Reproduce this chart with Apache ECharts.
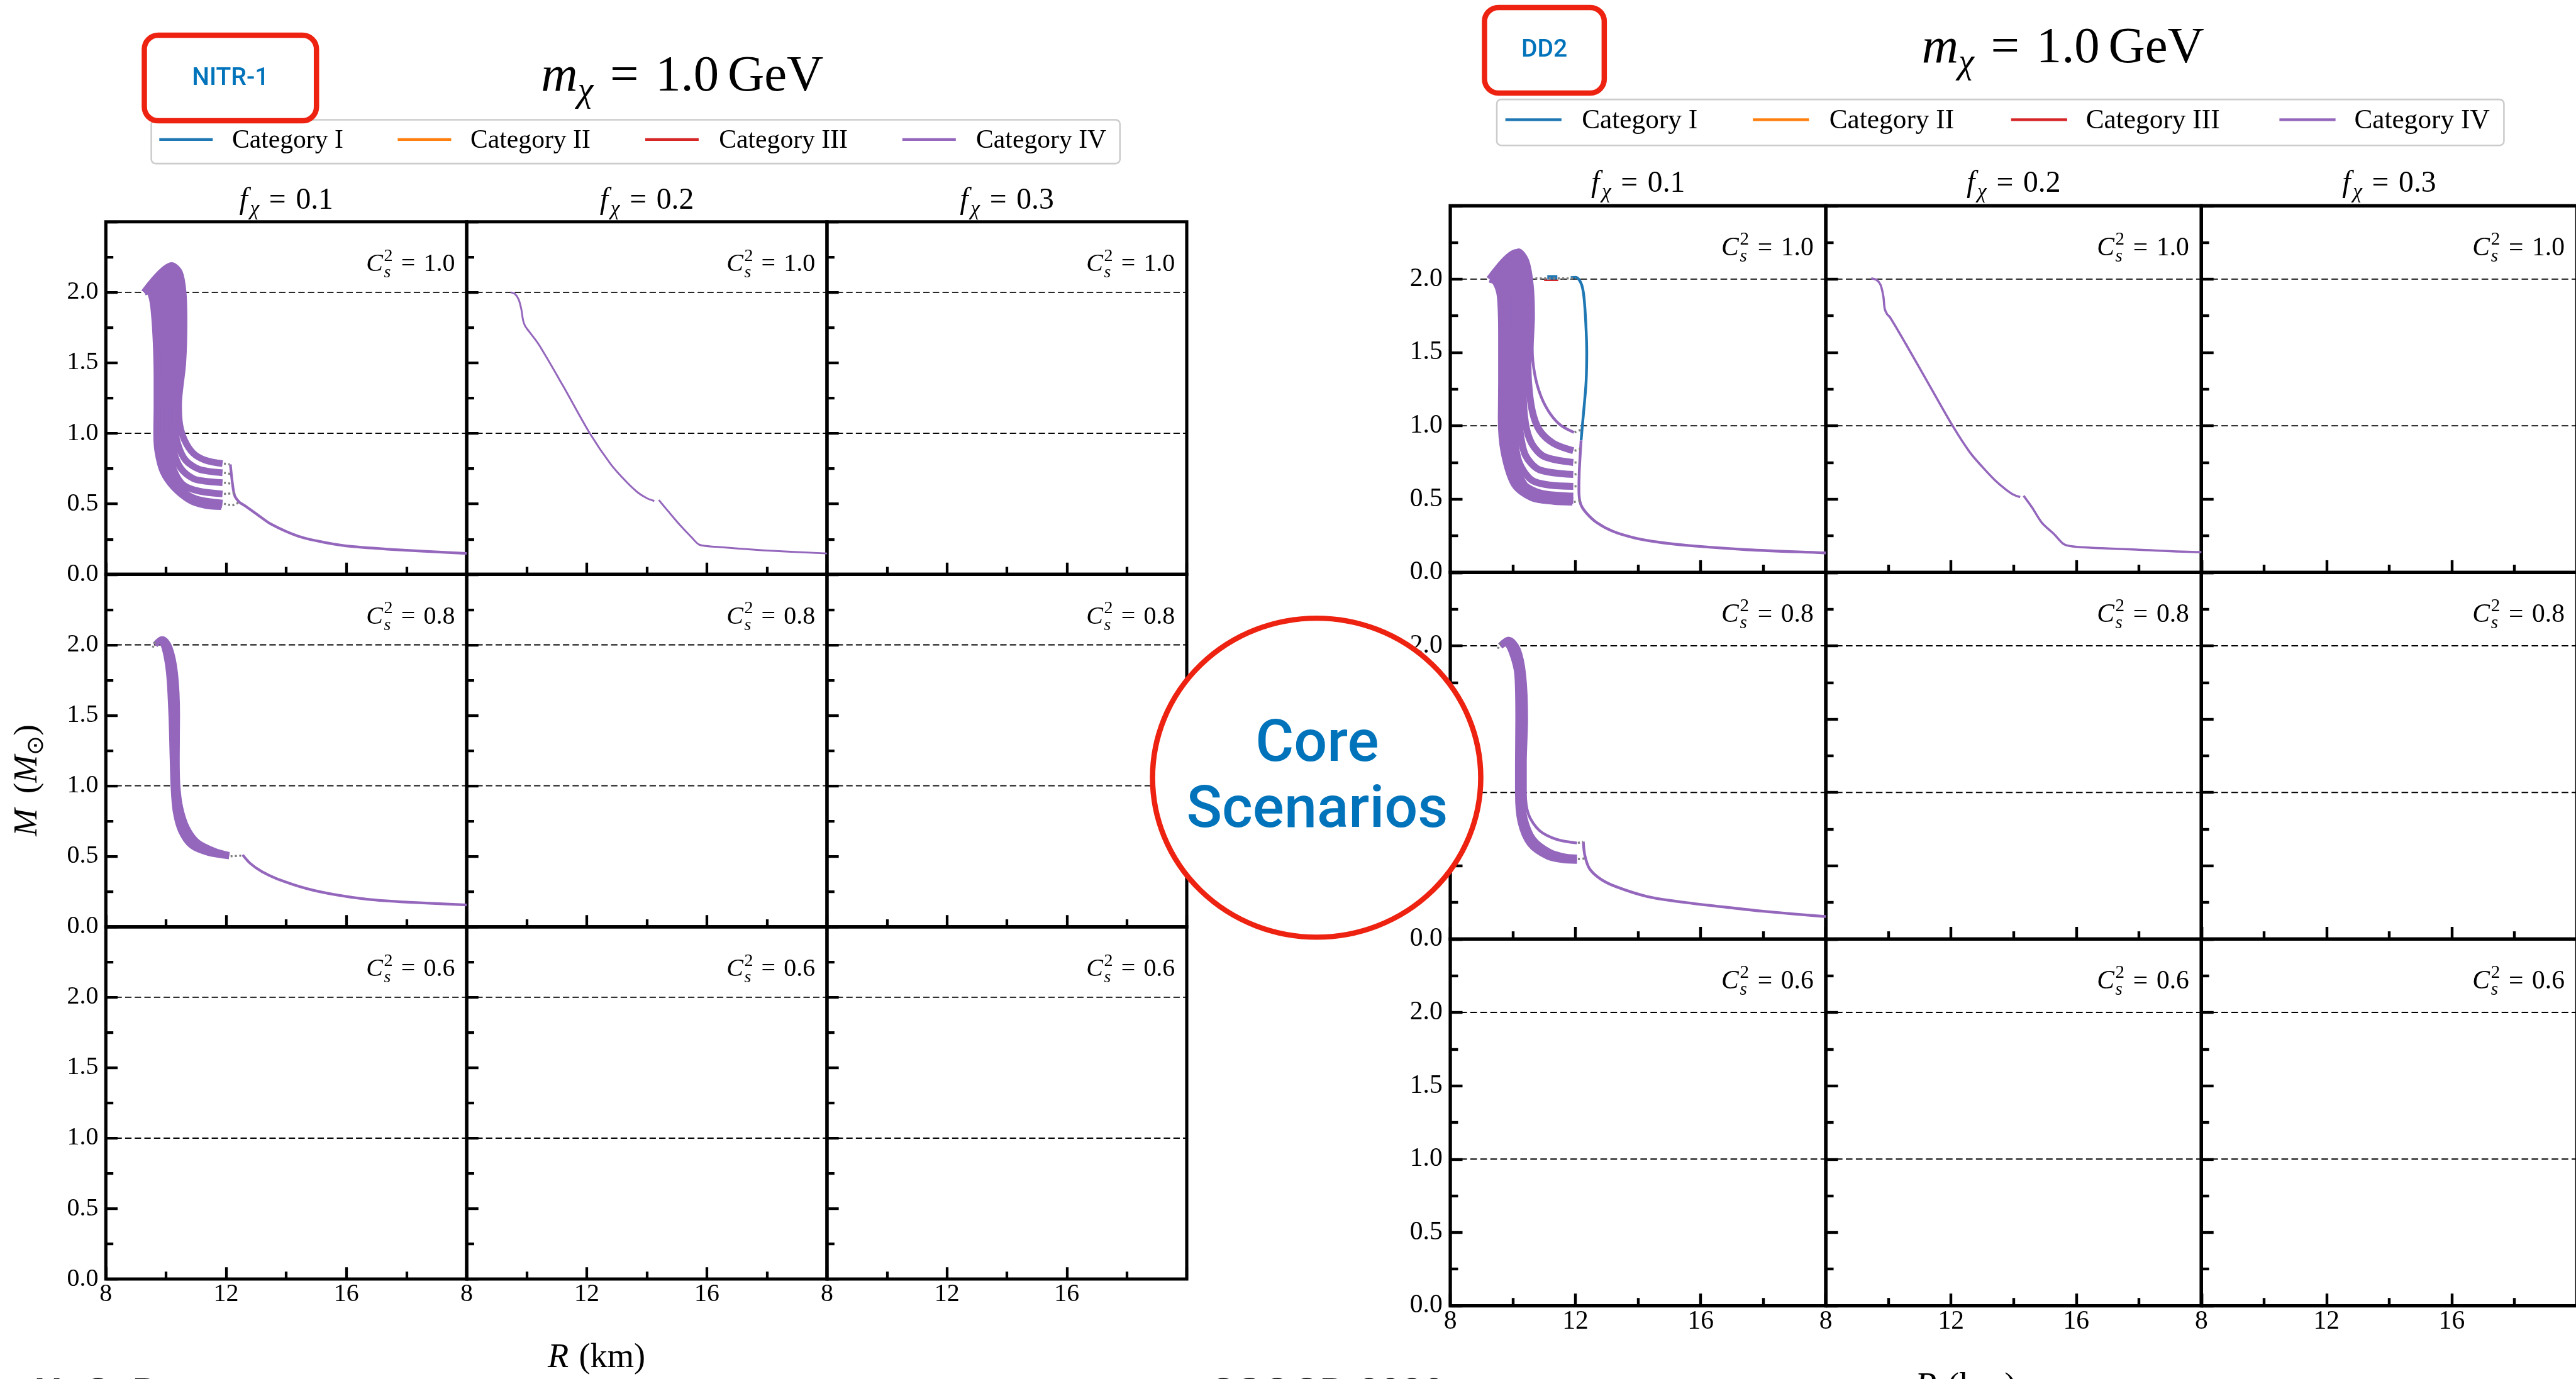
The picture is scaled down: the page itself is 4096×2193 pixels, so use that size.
<!DOCTYPE html>
<html>
<head>
<meta charset="utf-8">
<title>Core scenarios: mass-radius curves, NITR-1 and DD2</title>
<script src="https://cdn.jsdelivr.net/npm/echarts/dist/echarts.min.js"></script>
<style>
  html, body { margin: 0; padding: 0; background: #ffffff; overflow: hidden; }
  #chart { width: 4096px; height: 2193px; }
</style>
</head>
<body>
<div id="chart"></div>
<script>
// ---------------------------------------------------------------------------
// Values
// ---------------------------------------------------------------------------
const eosNames = ['NITR-1', 'DD2'];
const categories = ['Category I', 'Category II', 'Category III', 'Category IV'];
const fChiValues = ['0.1', '0.2', '0.3'];          // columns
const cs2Values = ['1.0', '0.8', '0.6'];          // rows
const darkMatterMass = '1.0';                     // m_chi in GeV
const radiusRange = [8, 20];                      // R (km)
const massRange = [0, 2.5];                       // M (M_sun)
const xTickValues = [8, 12, 16];
const xTickLabels = ['8', '12', '16'];
const yTickValues = [0, 0.5, 1, 1.5, 2];
const yTickLabels = ['0.0', '0.5', '1.0', '1.5', '2.0'];
const guideMasses = [1.0, 2.0];

// NITR-1, f_chi = 0.1, C_s^2 = 1.0 : family of Category IV sequences
const nitr_f1_c10_0 = [[9.28,2.0],[9.42,2.01],[9.55,1.95],[9.63,1.8],[9.68,1.6],[9.7,1.4],[9.7,1.2],[9.69,1.0],[9.73,0.87],[9.9,0.73],[10.25,0.62],[10.8,0.525],[11.3,0.49],[11.84,0.48]];
const nitr_f1_c10_1 = [[9.28,2.0],[9.5,2.03],[9.66,1.97],[9.76,1.82],[9.81,1.6],[9.82,1.4],[9.82,1.2],[9.81,1.0],[9.86,0.86],[10.05,0.72],[10.4,0.61],[10.9,0.54],[11.4,0.5],[11.86,0.492]];
const nitr_f1_c10_2 = [[9.28,2.0],[9.6,2.05],[9.78,1.99],[9.9,1.84],[9.95,1.6],[9.95,1.4],[9.93,1.2],[9.93,1.0],[9.98,0.84],[10.15,0.71],[10.5,0.6],[11.0,0.535],[11.88,0.505]];
const nitr_f1_c10_3 = [[9.28,2.0],[9.72,2.08],[9.92,2.02],[10.05,1.86],[10.1,1.6],[10.1,1.4],[10.06,1.2],[10.06,1.0],[10.12,0.85],[10.3,0.72],[10.6,0.63],[11.1,0.59],[11.88,0.57]];
const nitr_f1_c10_4 = [[9.28,2.0],[9.85,2.11],[10.08,2.05],[10.22,1.9],[10.27,1.65],[10.26,1.4],[10.18,1.2],[10.18,1.02],[10.26,0.87],[10.5,0.75],[10.9,0.68],[11.3,0.66],[11.88,0.65]];
const nitr_f1_c10_5 = [[9.28,2.0],[10.0,2.15],[10.25,2.09],[10.4,1.94],[10.44,1.7],[10.42,1.45],[10.3,1.2],[10.3,1.05],[10.4,0.92],[10.65,0.81],[11.1,0.745],[11.88,0.72]];
const nitr_f1_c10_6 = [[9.28,2.0],[10.19,2.19],[10.45,2.14],[10.57,2.0],[10.6,1.8],[10.56,1.5],[10.42,1.2],[10.46,1.06],[10.62,0.95],[10.9,0.86],[11.3,0.81],[11.88,0.785]];
const nitr_f1_c10_band = [nitr_f1_c10_0, nitr_f1_c10_1, nitr_f1_c10_2, nitr_f1_c10_3, nitr_f1_c10_4, nitr_f1_c10_5, nitr_f1_c10_6];
// region where the sequences of this family overlap
const nitr_f1_c10_core = [[9.3,2.0],[9.5,1.97],[9.6,1.85],[9.64,1.6],[9.65,1.3],[9.64,1.0],[9.68,0.86],[9.85,0.72],[10.2,0.6],[10.6,0.53],[10.95,0.5],[10.95,0.54],[10.6,0.6],[10.4,0.68],[10.28,0.78],[10.24,0.92],[10.3,1.05],[10.45,1.2],[10.58,1.5],[10.62,1.8],[10.56,2.03],[10.42,2.15],[10.19,2.18],[9.7,2.08]];
const nitr_f1_c10_tail = [[12.14,0.78],[12.19,0.68],[12.24,0.6],[12.3,0.55],[12.45,0.51],[12.6,0.49],[13.0,0.43],[13.5,0.355],[14.4,0.27],[15.3,0.225],[16.2,0.197],[18.0,0.17],[20.0,0.148]];
const nitr_f1_c10_links = [
  [[11.93,0.785],[12.12,0.78]],
  [[11.93,0.72],[12.18,0.71]],
  [[11.93,0.65],[12.22,0.64]],
  [[11.93,0.57],[12.27,0.575]],
  [[11.93,0.5],[12.2,0.49],[12.42,0.51]]
];

// NITR-1, f_chi = 0.1, C_s^2 = 0.8
const nitr_f1_c08_0 = [[9.64,2.0],[9.8,2.03],[9.95,1.98],[10.1,1.8],[10.18,1.5],[10.22,1.2],[10.25,1.0],[10.32,0.82],[10.5,0.68],[10.85,0.575],[11.4,0.525],[12.1,0.5]];
const nitr_f1_c08_1 = [[9.64,2.0],[9.85,2.04],[10.03,1.99],[10.2,1.8],[10.27,1.5],[10.3,1.2],[10.32,1.0],[10.4,0.83],[10.6,0.69],[10.95,0.585],[11.5,0.53],[12.1,0.505]];
const nitr_f1_c08_2 = [[9.64,2.0],[9.89,2.04],[10.12,1.98],[10.3,1.8],[10.37,1.5],[10.36,1.2],[10.38,1.0],[10.48,0.84],[10.7,0.7],[11.05,0.6],[11.6,0.54],[12.1,0.51]];
const nitr_f1_c08_band = [nitr_f1_c08_0, nitr_f1_c08_1, nitr_f1_c08_2];
const nitr_f1_c08_tail = [[12.55,0.51],[12.8,0.45],[13.2,0.39],[13.7,0.34],[14.7,0.27],[15.7,0.225],[16.7,0.195],[18.0,0.175],[20.0,0.155]];
const nitr_f1_c08_links = [
  [[12.15,0.5],[12.52,0.505]],
  [[9.56,1.98],[9.66,2.03]]
];

// NITR-1, f_chi = 0.2, C_s^2 = 1.0
const nitr_f2_c10_a = [[9.46,2.0],[9.6,1.99],[9.73,1.95],[9.82,1.88],[9.88,1.8],[9.95,1.76],[10.05,1.73],[10.4,1.63],[11.2,1.34],[12.1,1.0],[12.8,0.78],[13.3,0.66],[13.7,0.58],[14.0,0.54],[14.25,0.52]];
const nitr_f2_c10_b = [[14.4,0.527],[14.7,0.45],[15.1,0.35],[15.5,0.26],[15.75,0.21],[16.3,0.195],[17.9,0.17],[20.0,0.148]];

// DD2, f_chi = 0.1, C_s^2 = 1.0
const dd2_f1_c10_0 = [[9.26,2.0],[9.45,1.98],[9.6,1.88],[9.64,1.6],[9.64,1.3],[9.63,1.05],[9.72,0.82],[10.05,0.6],[10.6,0.51],[11.3,0.485],[11.9,0.48]];
const dd2_f1_c10_1 = [[9.26,2.0],[9.48,2.04],[9.7,1.96],[9.78,1.8],[9.78,1.5],[9.75,1.2],[9.74,0.95],[9.85,0.74],[10.2,0.58],[10.8,0.51],[11.93,0.49]];
const dd2_f1_c10_2 = [[9.26,2.0],[9.6,2.07],[9.82,2.0],[9.92,1.85],[9.93,1.7],[9.92,1.5],[9.88,1.2],[9.88,0.95],[10.0,0.74],[10.35,0.6],[10.9,0.54],[11.93,0.52]];
const dd2_f1_c10_3 = [[9.26,2.0],[9.73,2.09],[9.95,2.02],[10.07,1.88],[10.07,1.7],[10.06,1.5],[10.03,1.2],[10.05,0.95],[10.2,0.75],[10.6,0.63],[11.2,0.595],[11.93,0.587]];
const dd2_f1_c10_4 = [[9.26,2.0],[9.85,2.12],[10.1,2.05],[10.22,1.9],[10.22,1.7],[10.2,1.5],[10.18,1.2],[10.22,0.98],[10.4,0.8],[10.85,0.7],[11.93,0.668]];
const dd2_f1_c10_5 = [[9.26,2.0],[9.98,2.15],[10.25,2.08],[10.38,1.92],[10.38,1.7],[10.34,1.5],[10.33,1.25],[10.4,1.02],[10.6,0.88],[11.0,0.79],[11.93,0.75]];
const dd2_f1_c10_6 = [[9.26,2.0],[10.1,2.18],[10.38,2.12],[10.52,1.98],[10.53,1.75],[10.48,1.5],[10.5,1.3],[10.62,1.1],[10.85,0.97],[11.3,0.88],[11.93,0.83]];
const dd2_f1_c10_band = [dd2_f1_c10_0, dd2_f1_c10_1, dd2_f1_c10_2, dd2_f1_c10_3, dd2_f1_c10_4, dd2_f1_c10_5, dd2_f1_c10_6];
const dd2_f1_c10_core = [[9.3,2.0],[9.5,1.96],[9.57,1.85],[9.57,1.5],[9.57,1.1],[9.63,0.88],[9.78,0.7],[10.0,0.6],[10.35,0.53],[10.7,0.5],[10.9,0.49],[10.9,0.53],[10.55,0.58],[10.35,0.65],[10.22,0.75],[10.17,0.9],[10.2,1.05],[10.35,1.2],[10.45,1.4],[10.55,1.7],[10.52,1.98],[10.38,2.12],[10.1,2.17],[9.7,2.08]];
const dd2_f1_c10_outer = [[9.26,2.0],[10.19,2.2],[10.47,2.13],[10.62,1.96],[10.66,1.75],[10.62,1.52],[10.7,1.35],[10.9,1.2],[11.2,1.08],[11.55,1.0],[11.95,0.955]];
const dd2_f1_c10_catI = [[11.85,2.01],[12.0,2.012],[12.1,2.0],[12.2,1.96],[12.27,1.88],[12.33,1.7],[12.36,1.5],[12.34,1.3],[12.28,1.14],[12.22,1.0],[12.18,0.9]];
const dd2_f1_c10_catI_top = [[11.1,2.012],[11.42,2.012]];
const dd2_f1_c10_catIII = [[11.0,1.992],[11.45,1.992]];
const dd2_f1_c10_tail = [[12.18,0.9],[12.15,0.8],[12.12,0.68],[12.11,0.56],[12.16,0.47],[12.33,0.41],[12.68,0.34],[13.2,0.28],[13.9,0.235],[14.7,0.205],[15.64,0.183],[17.5,0.155],[19.9,0.134],[20.0,0.133]];
const dd2_f1_c10_links = [
  [[10.72,2.005],[12.02,2.005]],
  [[11.97,0.955],[12.2,0.975]],
  [[11.97,0.83],[12.15,0.84]],
  [[11.97,0.75],[12.13,0.75]],
  [[11.97,0.668],[12.12,0.675]],
  [[11.97,0.587],[12.11,0.59]],
  [[11.95,0.48],[12.15,0.49]]
];

// DD2, f_chi = 0.1, C_s^2 = 0.8
const dd2_f1_c08_0 = [[9.6,2.0],[9.78,2.02],[9.98,1.95],[10.15,1.8],[10.18,1.5],[10.17,1.2],[10.17,1.0],[10.25,0.8],[10.55,0.65],[11.1,0.565],[11.6,0.54],[12.05,0.535]];
const dd2_f1_c08_1 = [[9.6,2.0],[9.85,2.04],[10.1,1.97],[10.28,1.8],[10.33,1.5],[10.3,1.2],[10.29,1.0],[10.36,0.83],[10.65,0.68],[11.2,0.59],[11.7,0.56],[12.05,0.555]];
const dd2_f1_c08_band = [dd2_f1_c08_0, dd2_f1_c08_1];
const dd2_f1_c08_outer = [[9.6,2.0],[9.9,2.05],[10.2,1.98],[10.38,1.8],[10.44,1.5],[10.4,1.2],[10.4,1.0],[10.5,0.85],[10.85,0.74],[11.4,0.68],[12.05,0.655]];
const dd2_f1_c08_tail = [[12.25,0.665],[12.3,0.57],[12.45,0.48],[12.8,0.41],[13.3,0.357],[14.3,0.29],[15.5,0.25],[16.7,0.22],[18.0,0.19],[19.9,0.155],[20.0,0.154]];
const dd2_f1_c08_links = [
  [[12.08,0.545],[12.3,0.55]],
  [[12.08,0.655],[12.24,0.665]],
  [[9.52,1.98],[9.62,2.03]]
];

// DD2, f_chi = 0.2, C_s^2 = 1.0
const dd2_f2_c10_a = [[9.45,2.005],[9.62,1.995],[9.75,1.96],[9.84,1.88],[9.88,1.8],[9.96,1.76],[10.05,1.74],[10.55,1.56],[11.3,1.28],[12.08,0.99],[12.6,0.82],[13.0,0.72],[13.4,0.63],[13.75,0.566],[14.0,0.53],[14.21,0.514]];
const dd2_f2_c10_b = [[14.32,0.523],[14.6,0.44],[14.9,0.34],[15.3,0.26],[15.62,0.191],[16.04,0.174],[18.0,0.155],[19.96,0.139],[20.0,0.139]];

// ---------------------------------------------------------------------------
// Styles and layout (slide units, 4814 x 2578; drawn at S)
// ---------------------------------------------------------------------------
const S = 0.85;
const SERIF = '"Liberation Serif", "Times New Roman", serif';
const SANS = 'Roboto, "Liberation Sans", Arial, sans-serif';
const BOLD_SANS = '"Liberation Sans", Arial, sans-serif';
const categoryColors = ['#1f77b4', '#ff7f0e', '#d62728', '#9467bd'];
const LINK_GRAY = '#808080';
const RED = '#ee2211';
const BLUE = '#0173bb';
const BASE_MID = 0.3;

const figures = [
  { k: 1.0, cols: [198, 873, 1547, 2220], rows: [415, 1074.5, 1734, 2393],
    box: [270, 66, 322, 160], boxText: [431, 147], title: [1012, 173],
    legendBox: [283, 224, 1812, 82], legendY: 261, legendLineLen: 100,
    legendLineX: [298, 744, 1207, 1688], legendTextX: [434, 880, 1345, 1826],
    colTitleY: 393, xTitle: [1116, 2560], yTitle: [70, 1460] },
  { k: 1.04, cols: [2713, 3415.5, 4118, 4820.5], rows: [385, 1071, 1757, 2443],
    box: [2777, 14, 224, 160], boxText: [2889, 94], title: [3595, 120],
    legendBox: [2800, 186, 1884, 86], legendY: 224, legendLineLen: 105,
    legendLineX: [2816, 3279, 3762, 4264], legendTextX: [2959, 3422, 3902, 4404],
    colTitleY: 361, xTitle: [3677, 2617], yTitle: [2568, 1472] }
];

// curves per panel: key = figure-row-col
const band = (list, w) => list.map(d => ({ d, cat: 3, w }));
const dotted = list => list.map(d => ({ d, dot: true, w: 4 }));
const panelCurves = {
  '0-0-0': [...band(nitr_f1_c10_band, 12.5), ...dotted(nitr_f1_c10_links), { d: nitr_f1_c10_tail, cat: 3, w: 5 }],
  '0-1-0': [...band(nitr_f1_c08_band, 11), ...dotted(nitr_f1_c08_links), { d: nitr_f1_c08_tail, cat: 3, w: 5 }],
  '0-0-1': [{ d: nitr_f2_c10_a, cat: 3, w: 3.5 }, { d: nitr_f2_c10_b, cat: 3, w: 3.5 }],
  '1-0-0': [...band(dd2_f1_c10_band, 12.5), { d: dd2_f1_c10_outer, cat: 3, w: 5 }, ...dotted(dd2_f1_c10_links),
            { d: dd2_f1_c10_catIII, cat: 2, w: 3 }, { d: dd2_f1_c10_catI_top, cat: 0, w: 8, smooth: 0 },
            { d: dd2_f1_c10_catI, cat: 0, w: 5 }, { d: dd2_f1_c10_tail, cat: 3, w: 5 }],
  '1-1-0': [...band(dd2_f1_c08_band, 11.5), { d: dd2_f1_c08_outer, cat: 3, w: 5 }, ...dotted(dd2_f1_c08_links),
            { d: dd2_f1_c08_tail, cat: 3, w: 5 }],
  '1-0-1': [{ d: dd2_f2_c10_a, cat: 3, w: 4 }, { d: dd2_f2_c10_b, cat: 3, w: 4 }]
};
const panelCores = { '0-0-0': nitr_f1_c10_core, '1-0-0': dd2_f1_c10_core };

// ---------------------------------------------------------------------------
// Text helpers (math-style labels built from positioned runs)
// ---------------------------------------------------------------------------
const mctx = document.createElement('canvas').getContext('2d');
function fontStr(size, italic, family, weight) {
  return (italic ? 'italic ' : '') + (weight ? weight + ' ' : '') + size.toFixed(2) + 'px ' + family;
}
function measure(t, font) { mctx.font = font; return mctx.measureText(t).width; }

function mathGroup(parts, F, x, y, align, rotation, z, family, weight) {
  const fam = family || SERIF;
  const kids = [];
  let cx = 0;
  for (const p of parts) {
    cx += (p.pre || 0) * F;
    const items = p.stack || [p];
    let adv = 0;
    for (const q of items) {
      const f = F * (q.sc || 1);
      const font = fontStr(f, q.it, fam, weight);
      kids.push({ type: 'text', x: cx, y: (q.dy || 0) * F - BASE_MID * f, z: z || 10, silent: true,
        style: { text: q.t, font, fill: '#000', align: 'left', verticalAlign: 'middle' } });
      adv = Math.max(adv, measure(q.t, font));
    }
    cx += adv + (p.post || 0) * F;
  }
  const shift = align === 'center' ? -cx / 2 : (align === 'right' ? -cx : 0);
  kids.forEach(kd => { kd.x += shift; });
  return { type: 'group', x, y, rotation: rotation || 0, z: z || 10, silent: true, children: kids };
}
const EQ = { t: '=', pre: 0.33, post: 0.33 };
const fChiParts = v => [{ t: 'f', it: true, post: 0.08 }, { t: 'χ', it: true, sc: 0.7, dy: 0.2 }, EQ, { t: v }];
const cs2Parts = v => [{ t: 'C', it: true, post: 0.04 },
  { stack: [{ t: '2', sc: 0.7, dy: -0.42 }, { t: 's', it: true, sc: 0.7, dy: 0.24 }] }, EQ, { t: v }];
const titleParts = [{ t: 'm', it: true }, { t: 'χ', it: true, sc: 0.7, dy: 0.2 }, EQ, { t: darkMatterMass }, { t: 'GeV', pre: 0.17 }];
const yTitleParts = [{ t: 'M', it: true }, { t: '(', pre: 0.45 }, { t: 'M', it: true }, { t: '⊙', sc: 0.7, dy: 0.18 }, { t: ')' }];
const xTitleParts = [{ t: 'R', it: true }, { t: '(km)', pre: 0.3 }];

// ---------------------------------------------------------------------------
// Grids, axes and series
// ---------------------------------------------------------------------------
const grids = [], xAxes = [], yAxes = [], series = [];
figures.forEach((fg, fi) => {
  const k = fg.k;
  for (let r = 0; r < 3; r++) {
    for (let c = 0; c < 3; c++) {
      const gi = grids.length;
      const key = fi + '-' + r + '-' + c;
      grids.push({
        left: fg.cols[c] * S, top: fg.rows[r] * S,
        width: (fg.cols[c + 1] - fg.cols[c]) * S, height: (fg.rows[r + 1] - fg.rows[r]) * S,
        show: true, borderColor: '#000', borderWidth: 6 * S * k, backgroundColor: 'rgba(0,0,0,0)',
        containLabel: false, outerBoundsMode: 'none'
      });
      const tickStyle = { color: '#000', width: 5 * S * k };
      xAxes.push({
        type: 'value', gridIndex: gi, min: radiusRange[0], max: radiusRange[1], interval: 4,
        axisLine: { show: false }, splitLine: { show: false },
        axisTick: { show: true, inside: true, length: 22 * S * k, lineStyle: tickStyle },
        minorTick: { show: true, splitNumber: 2, length: 14 * S * k, lineStyle: tickStyle },
        axisLabel: {
          show: r === 2, margin: 5 * S * k, color: '#000', fontFamily: SERIF, fontSize: 47 * S * k,
          formatter: v => { const i = xTickValues.indexOf(v); return i >= 0 ? xTickLabels[i] : ''; }
        }
      });
      yAxes.push({
        type: 'value', gridIndex: gi, min: massRange[0], max: massRange[1], interval: 0.5,
        axisLine: { show: false }, splitLine: { show: false },
        axisTick: { show: true, inside: true, length: 22 * S * k, lineStyle: tickStyle },
        minorTick: { show: true, splitNumber: 2, length: 14 * S * k, lineStyle: tickStyle },
        axisLabel: {
          show: c === 0, margin: 14 * S * k, color: '#000', fontFamily: SERIF, fontSize: 47 * S * k,
          formatter: v => { const i = yTickValues.indexOf(v); return i >= 0 ? yTickLabels[i] : ''; }
        }
      });
      guideMasses.forEach(m => series.push({
        type: 'line', xAxisIndex: gi, yAxisIndex: gi, data: [[radiusRange[0], m], [radiusRange[1], m]],
        symbol: 'none', silent: true, animation: false, z: 1,
        lineStyle: { color: '#000', width: 2.2 * S * k, type: [12 * S * k, 6 * S * k] }
      }));
      const core = panelCores[key];
      if (core) {
        series.push({
          type: 'custom', name: categories[3], xAxisIndex: gi, yAxisIndex: gi, data: [core[0]],
          silent: true, animation: false, clip: true, z: 3,
          renderItem: (params, api) => ({
            type: 'polygon',
            shape: { points: core.map(p => api.coord(p)) },
            style: { fill: categoryColors[3], stroke: 'none' }
          })
        });
      }
      (panelCurves[key] || []).forEach(cv => {
        const w = cv.w * S * k;
        series.push({
          type: 'line', name: cv.cat != null ? categories[cv.cat] : 'link',
          xAxisIndex: gi, yAxisIndex: gi, data: cv.d,
          symbol: 'none', showSymbol: false, smooth: cv.smooth != null ? cv.smooth : 0.3,
          silent: true, animation: false, clip: true, z: cv.dot ? 4 : 3,
          lineStyle: {
            color: cv.dot ? LINK_GRAY : categoryColors[cv.cat], width: w, cap: 'butt', join: 'round',
            type: cv.dot ? [w * 0.9, w * 1.1] : 'solid'
          }
        });
      });
    }
  }
});

// ---------------------------------------------------------------------------
// Slide annotations: titles, legends, labels, boxes
// ---------------------------------------------------------------------------
const graphics = [];
figures.forEach((fg, fi) => {
  const k = fg.k;
  graphics.push({ type: 'rect', z: 5, silent: true,
    shape: { x: fg.legendBox[0] * S, y: fg.legendBox[1] * S, width: fg.legendBox[2] * S, height: fg.legendBox[3] * S, r: 8 * S },
    style: { fill: '#ffffff', stroke: '#cccccc', lineWidth: 3 * S } });
  categories.forEach((name, ci) => {
    graphics.push({ type: 'line', z: 6, silent: true,
      shape: { x1: fg.legendLineX[ci] * S, y1: fg.legendY * S, x2: (fg.legendLineX[ci] + fg.legendLineLen) * S, y2: fg.legendY * S },
      style: { stroke: categoryColors[ci], lineWidth: 5 * S * k } });
    graphics.push(mathGroup([{ t: name }], 49 * S * k, fg.legendTextX[ci] * S, (fg.legendY + 0.35 * 49 * k) * S, 'left', 0, 6));
  });
  graphics.push({ type: 'rect', z: 20, silent: true,
    shape: { x: fg.box[0] * S, y: fg.box[1] * S, width: fg.box[2] * S, height: fg.box[3] * S, r: 26 * S },
    style: { fill: 'none', stroke: RED, lineWidth: 10 * S } });
  graphics.push({ type: 'text', z: 21, silent: true, x: fg.boxText[0] * S, y: fg.boxText[1] * S,
    style: { text: eosNames[fi], font: fontStr(46 * S, false, SANS, 500), fill: BLUE, align: 'center', verticalAlign: 'middle' } });
  graphics.push(mathGroup(titleParts, 95 * S, fg.title[0] * S, fg.title[1] * S, 'left'));
  for (let c = 0; c < 3; c++) {
    const cxm = (fg.cols[c] + fg.cols[c + 1]) / 2;
    graphics.push(mathGroup(fChiParts(fChiValues[c]), 56 * S, cxm * S, fg.colTitleY * S, 'center'));
    for (let r = 0; r < 3; r++) {
      graphics.push(mathGroup(cs2Parts(cs2Values[r]), 47 * S * k, (fg.cols[c + 1] - 22 * k) * S, (fg.rows[r] + 94) * S, 'right'));
    }
  }
  graphics.push(mathGroup(xTitleParts, 64 * S * k, fg.xTitle[0] * S, fg.xTitle[1] * S, 'center'));
  graphics.push(mathGroup(yTitleParts, 62 * S * k, fg.yTitle[0] * S, fg.yTitle[1] * S, 'center', Math.PI / 2));
});

// footer line of the slide
graphics.push(mathGroup([{ t: 'H. C. Das' }], 72 * S, 64 * S, 2630 * S, 'left', 0, 10, BOLD_SANS, 'bold'));
graphics.push(mathGroup([{ t: 'CSQCD 2026' }], 72 * S, 2261 * S, 2630 * S, 'left', 0, 10, BOLD_SANS, 'bold'));

// central call-out
graphics.push({ type: 'circle', z: 100, silent: true, x: 2463 * S, y: 1455 * S, scaleY: 0.972,
  shape: { cx: 0, cy: 0, r: 307 * S }, style: { fill: '#ffffff', stroke: RED, lineWidth: 10 * S } });
graphics.push({ type: 'text', z: 101, silent: true, x: 2464 * S, y: (1429 - BASE_MID * 110) * S,
  style: { text: 'Core', font: fontStr(110 * S, false, SANS, 500), fill: BLUE, align: 'center', verticalAlign: 'middle' } });
graphics.push({ type: 'text', z: 101, silent: true, x: 2464 * S, y: (1553 - BASE_MID * 110) * S,
  style: { text: 'Scenarios', font: fontStr(110 * S, false, SANS, 500), fill: BLUE, align: 'center', verticalAlign: 'middle' } });

const chart = echarts.init(document.getElementById('chart'), null, { renderer: 'canvas' });
chart.setOption({
  backgroundColor: '#ffffff',
  animation: false,
  grid: grids,
  xAxis: xAxes,
  yAxis: yAxes,
  series: series,
  graphic: graphics
});
</script>
</body>
</html>
